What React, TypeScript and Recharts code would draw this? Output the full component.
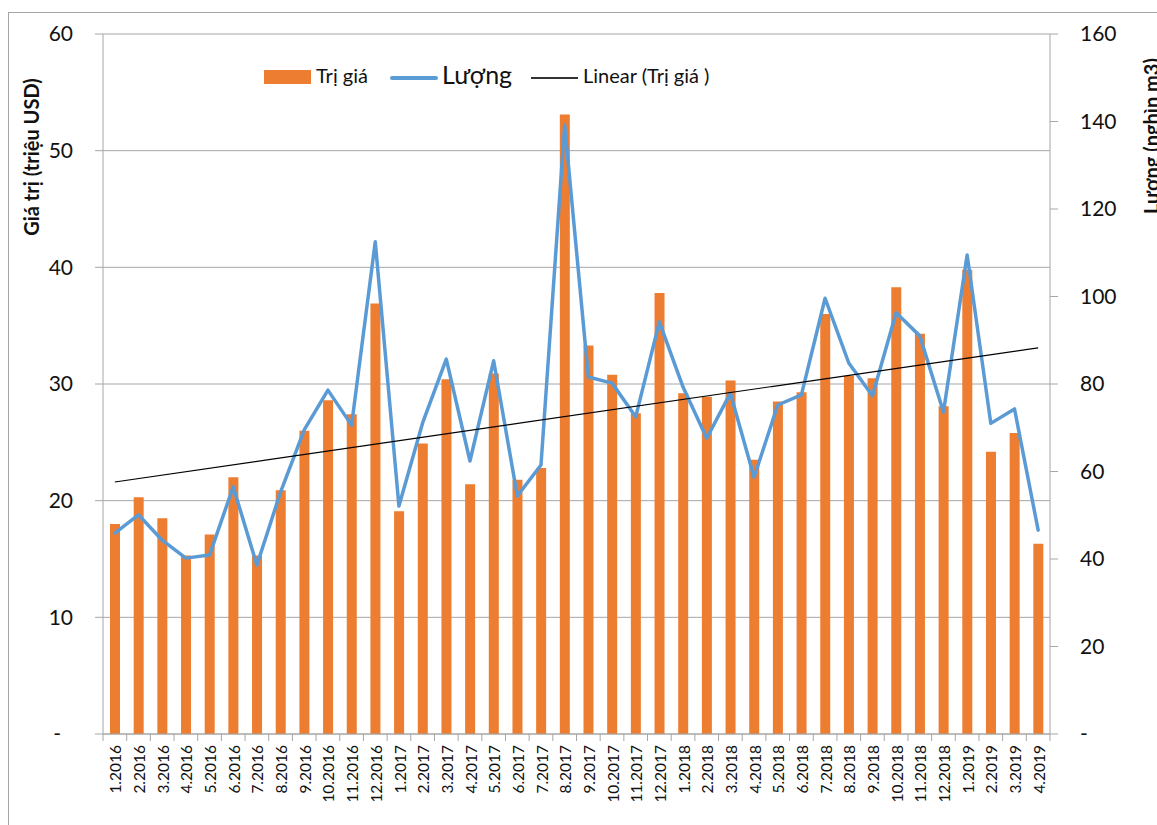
import React from 'react';
import { ComposedChart, Bar, Line, XAxis, YAxis, CartesianGrid, Legend } from 'recharts';

const categories = [
  '1.2016', '2.2016', '3.2016', '4.2016', '5.2016', '6.2016', '7.2016', '8.2016', '9.2016', '10.2016', '11.2016', '12.2016',
  '1.2017', '2.2017', '3.2017', '4.2017', '5.2017', '6.2017', '7.2017', '8.2017', '9.2017', '10.2017', '11.2017', '12.2017',
  '1.2018', '2.2018', '3.2018', '4.2018', '5.2018', '6.2018', '7.2018', '8.2018', '9.2018', '10.2018', '11.2018', '12.2018',
  '1.2019', '2.2019', '3.2019', '4.2019',
];

const triGia = [
  18.0, 20.3, 18.5, 15.3, 17.1, 22.0, 15.3, 20.9, 26.0, 28.6, 27.4, 36.9,
  19.1, 24.9, 30.4, 21.4, 30.9, 21.8, 22.8, 53.1, 33.3, 30.8, 27.5, 37.8,
  29.2, 28.9, 30.3, 23.5, 28.5, 29.3, 36.0, 30.7, 30.5, 38.3, 34.3, 28.1,
  39.8, 24.2, 25.8, 16.3,
];

const luong = [
  45.9, 50.1, 44.3, 40.2, 40.9, 56.5, 38.6, 55.3, 69.5, 78.6, 70.6, 112.5,
  52.1, 71.1, 85.7, 62.4, 85.3, 54.4, 61.5, 139.2, 81.6, 80.2, 72.5, 94.2,
  79.3, 67.6, 77.9, 58.7, 75.2, 77.5, 99.6, 84.8, 77.3, 96.3, 91.0, 73.6,
  109.5, 71.0, 74.3, 46.6,
];

// Linear trendline of "Trị giá" read at its two ends
const trendStart = 21.6;
const trendEnd = 33.1;

const leftTicks = [0, 10, 20, 30, 40, 50, 60];
const rightTicks = [0, 20, 40, 60, 80, 100, 120, 140, 160];

const data = categories.map((c, i) => ({
  name: c,
  triGia: triGia[i],
  luong: luong[i],
  trend: i === 0 ? trendStart : i === categories.length - 1 ? trendEnd : null,
}));

const FONT = 'Lato, "Open Sans", sans-serif';
const GRID = '#a6a6a6';
const ORANGE = '#ED7D31';
const BLUE = '#5B9BD5';
const PLOT_W = 947;

const XTick = (props: any) => {
  const { x, y, payload, index } = props;
  const n = categories.length;
  const bw = PLOT_W / n;
  return (
    <g>
      <line x1={x - bw / 2} x2={x - bw / 2} y1={y} y2={y + 7} stroke={GRID} strokeWidth={1} />
      {index === n - 1 && (
        <line x1={x + bw / 2} x2={x + bw / 2} y1={y} y2={y + 7} stroke={GRID} strokeWidth={1} />
      )}
      <text
        x={x + 1}
        y={y + 11}
        transform={`rotate(-90, ${x + 1}, ${y + 11})`}
        textAnchor="end"
        dy="0.36em"
        fontFamily={FONT}
        fontSize={15.5}
        fill="#111"
      >
        {payload.value}
      </text>
    </g>
  );
};

const LeftTick = (props: any) => {
  const { x, y, payload } = props;
  const zero = payload.value === 0;
  return (
    <text x={zero ? x - 12 : x} y={y} dy="0.35em" textAnchor="end" fontFamily={FONT} fontSize={21} fill="#111">
      {zero ? '-' : payload.value}
    </text>
  );
};

const RightTick = (props: any) => {
  const { x, y, payload } = props;
  const zero = payload.value === 0;
  return (
    <text x={x} y={y} dy="0.35em" textAnchor="start" fontFamily={FONT} fontSize={21} fill="#111">
      {zero ? '-' : payload.value}
    </text>
  );
};

const LegendContent = () => (
  <div style={{ position: 'relative', width: 480, height: 30, fontFamily: FONT, color: '#111' }}>
    <div style={{ position: 'absolute', left: 0, top: 0, width: 47, height: 14, background: ORANGE }} />
    <span style={{ position: 'absolute', left: 52, top: -7, fontSize: 20, whiteSpace: 'nowrap' }}>Trị giá</span>
    <div style={{ position: 'absolute', left: 126, top: 6, width: 48, height: 4, borderRadius: 2, background: BLUE }} />
    <span style={{ position: 'absolute', left: 178, top: -11, fontSize: 25, whiteSpace: 'nowrap' }}>Lượng</span>
    <div style={{ position: 'absolute', left: 267, top: 7, width: 47, height: 1.5, background: '#333' }} />
    <span style={{ position: 'absolute', left: 319, top: -7, fontSize: 20, whiteSpace: 'nowrap' }}>Linear (Trị giá )</span>
  </div>
);

const LeftTitle = (props: any) => {
  const x = 31;
  const y = 145;
  return (
    <text x={x} y={y} transform={`rotate(-90, ${x}, ${y})`} textAnchor="middle" fontFamily={FONT} fontSize={20} fontWeight={700} fill="#111">
      Giá trị (triệu USD)
    </text>
  );
};

const RightTitle = (props: any) => {
  const x = 1151;
  const y = 124;
  return (
    <text x={x} y={y} transform={`rotate(-90, ${x}, ${y})`} textAnchor="middle" fontFamily={FONT} fontSize={20} fontWeight={700} fill="#111">
      Lượng (nghìn m3)
    </text>
  );
};

export default function App() {
  return (
    <div
      style={{
        position: 'fixed',
        left: 8,
        top: 12,
        width: 1149,
        height: 813,
        overflow: 'hidden',
        background: '#fff',
      }}
    >
      <div style={{ position: 'absolute', left: 0, top: 0, width: 1175, height: 830, border: '1px solid #a6a6a6', boxSizing: 'border-box' }} />
      <ComposedChart
        width={1175}
        height={813}
        data={data}
        margin={{ top: 22, right: 0, bottom: 0, left: 0 }}
        barSize={10}
        style={{ position: 'absolute', left: 0, top: 0 }}
      >
        <CartesianGrid yAxisId="left" horizontal vertical={false} stroke={GRID} strokeWidth={1} strokeDasharray="" />
        <XAxis
          dataKey="name"
          xAxisId={0}
          height={91}
          interval={0}
          tickLine={false}
          tickSize={0}
          tickMargin={0}
          axisLine={{ stroke: GRID, strokeWidth: 1 }}
          tick={<XTick />}
        />
        <YAxis
          yAxisId="left"
          orientation="left"
          width={95}
          domain={[0, 60]}
          ticks={leftTicks}
          interval={0}
          tickSize={8}
          tickMargin={22}
          tickLine={{ stroke: GRID, strokeWidth: 1 }}
          axisLine={{ stroke: GRID, strokeWidth: 1 }}
          tick={<LeftTick />}
          label={<LeftTitle />}
        />
        <YAxis
          yAxisId="right"
          orientation="right"
          width={133}
          domain={[0, 160]}
          ticks={rightTicks}
          interval={0}
          tickSize={8}
          tickMargin={22}
          tickLine={{ stroke: GRID, strokeWidth: 1 }}
          axisLine={{ stroke: GRID, strokeWidth: 1 }}
          tick={<RightTick />}
          label={<RightTitle />}
        />
        <Legend
          layout="vertical"
          align="center"
          verticalAlign="middle"
          wrapperStyle={{ left: 256, top: 58, width: 480, height: 30 }}
          content={<LegendContent />}
        />
        <Bar yAxisId="left" dataKey="triGia" name="Trị giá" fill={ORANGE} isAnimationActive={false} />
        <Line
          yAxisId="right"
          dataKey="luong"
          name="Lượng"
          type="linear"
          stroke={BLUE}
          strokeWidth={3.5}
          strokeLinejoin="round"
          strokeLinecap="round"
          dot={false}
          activeDot={false}
          isAnimationActive={false}
        />
        <Line
          yAxisId="left"
          dataKey="trend"
          name="Linear (Trị giá )"
          type="linear"
          stroke="#000"
          strokeWidth={1.2}
          dot={false}
          activeDot={false}
          connectNulls
          isAnimationActive={false}
        />
      </ComposedChart>
    </div>
  );
}
